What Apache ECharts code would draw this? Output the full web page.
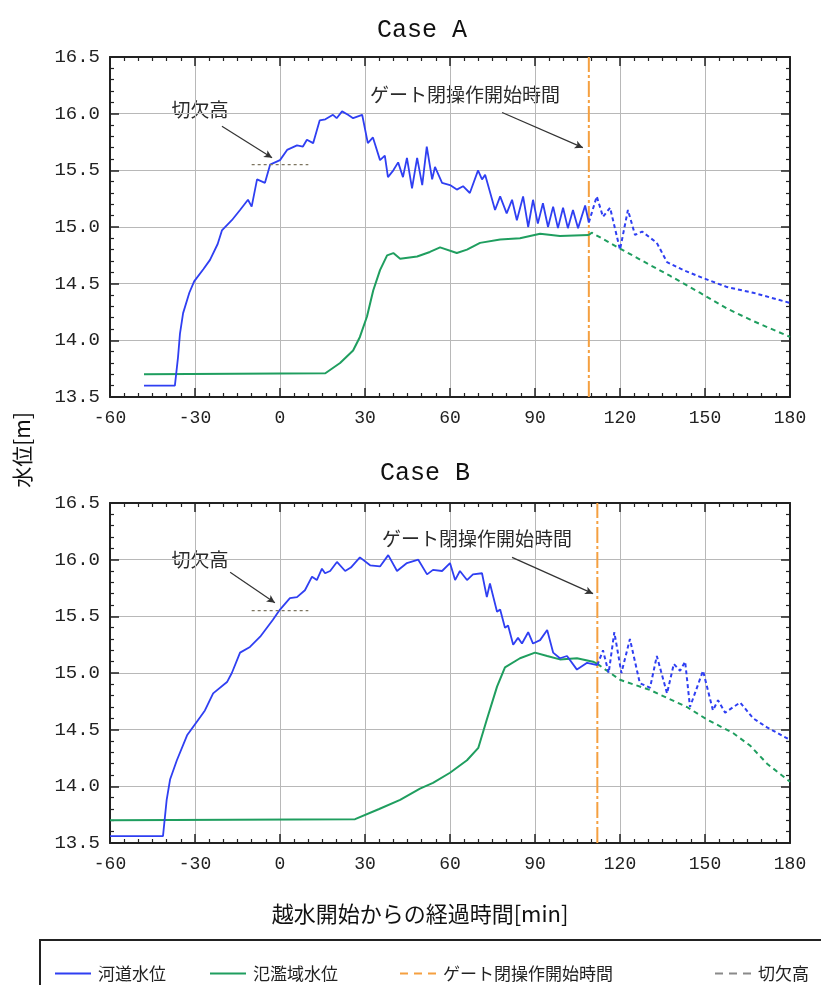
<!DOCTYPE html>
<html><head><meta charset="utf-8">
<script src="https://cdn.jsdelivr.net/npm/echarts@6/dist/echarts.min.js"></script>
<style>html,body{margin:0;padding:0;background:#fff}#c{width:821px;height:985px}</style>
</head><body><div id="c"></div>
<script>
// ---- data ----
const xTicks = [-60, -30, 0, 30, 60, 90, 120, 150, 180];
const yTicks = [13.5, 14.0, 14.5, 15.0, 15.5, 16.0, 16.5];
const caseTitles = ['Case A', 'Case B'];
const seriesNames = ['河道水位', '氾濫域水位', 'ゲート閉操作開始時間', '切欠高'];

const gateA = 109, gateB = 112;
const cutoffLevel = 15.55;
const cutoffSpan = [-10, 10];

// Case A river (solid, before gate)
const tA_river = [-48,-37.1,-36,-35.3,-34.2,-32,-30.3,-27,-24.7,-22,-20.5,-17,-14.1,-11.3,-10,-8.1,-5.3,-3.5,0,2.5,6,8.1,9.5,11.7,14,16,18.7,20,21.9,24,25.8,29,31,32.8,35.3,37,38.1,40,41.7,43.4,44.8,46.6,48.4,50.2,51.8,53.7,54.7,57.2,60,62.4,64.6,67,69.9,71.3,72.4,75.9,77.7,80,81.9,83.6,85.8,87.6,89.3,91,92.8,94.6,96.4,98.1,99.9,101.6,103.4,105.2,107.7,109];
const vA_river = [13.6,13.6,13.85,14.06,14.24,14.42,14.52,14.63,14.71,14.85,14.97,15.06,15.15,15.24,15.18,15.42,15.39,15.55,15.59,15.68,15.72,15.71,15.77,15.74,15.94,15.95,15.99,15.96,16.02,15.99,15.96,15.99,15.74,15.79,15.59,15.63,15.44,15.5,15.57,15.44,15.61,15.34,15.61,15.37,15.71,15.42,15.53,15.39,15.37,15.33,15.36,15.3,15.5,15.42,15.46,15.15,15.27,15.12,15.24,15.06,15.27,15.0,15.24,15.03,15.21,15.0,15.18,14.99,15.17,14.99,15.15,14.99,15.19,15.04];
// Case A river (dashed, after gate)
const tA_riverAfter = [109,111.8,114,116.5,120,122.8,125.3,127.8,133,136.6,142.3,149.3,157.8,167,180];
const vA_riverAfter = [15.04,15.27,15.09,15.17,14.8,15.15,14.93,14.96,14.86,14.69,14.62,14.55,14.47,14.42,14.33];
// Case A floodplain (solid / dashed)
const tA_flood = [-48,16,21.2,25.8,28.2,30.7,32.9,35.3,37.8,40,42.4,48.4,52.9,56.5,62.4,66,70.6,77.7,84.7,91.8,98.8,109];
const vA_flood = [13.7,13.71,13.8,13.91,14.03,14.21,14.44,14.62,14.75,14.77,14.72,14.74,14.78,14.82,14.77,14.8,14.86,14.89,14.9,14.94,14.92,14.93];
const tA_floodAfter = [109,110,120,128,137.6,148.2,157.8,167,180];
const vA_floodAfter = [14.93,14.95,14.81,14.7,14.57,14.42,14.28,14.17,14.03];

// Case B river (solid / dashed)
const tB_river = [-60,-41.3,-40,-38.8,-36.4,-32.8,-28.2,-26.5,-23.6,-18.7,-17,-14.1,-10.6,-7,-2.5,0,3.5,6,8.8,11.3,13,14.8,15.9,17.7,20.1,23,25,28.2,31.8,35.3,38.2,41.3,44.8,48.8,51.9,54,57.2,60,61.8,63.5,66,68.1,71.3,73,74.1,76.6,77.7,79.4,80.5,82.3,84,85.4,87.6,89.3,91.8,94.3,96.4,98.8,101.3,104.8,108.4,112];
const vB_river = [13.56,13.56,13.88,14.06,14.23,14.45,14.61,14.67,14.82,14.92,15.0,15.18,15.23,15.32,15.47,15.56,15.66,15.67,15.73,15.85,15.82,15.92,15.88,15.9,15.98,15.9,15.93,16.02,15.95,15.94,16.04,15.9,15.97,16.0,15.87,15.91,15.9,15.97,15.82,15.9,15.82,15.87,15.88,15.67,15.79,15.54,15.56,15.4,15.42,15.25,15.31,15.26,15.36,15.26,15.29,15.38,15.18,15.13,15.15,15.03,15.09,15.07];
const tB_riverAfter = [112,114,116,118,120.5,123.5,127,130.6,133,136.6,139,141.2,143,144.7,149.3,152.8,154.6,157.1,162.4,167,171.9,180];
const vB_riverAfter = [15.07,15.2,15.0,15.36,15.0,15.3,14.91,14.87,15.15,14.82,15.08,15.02,15.1,14.7,15.02,14.67,14.76,14.65,14.74,14.6,14.52,14.41];
// Case B floodplain (solid / dashed)
const tB_flood = [-60,26.5,35,42.4,49.4,54,60,66,70,73,76.6,79.4,84.7,90,94.3,98.8,104.8,110.5,112];
const vB_flood = [13.7,13.71,13.8,13.88,13.98,14.03,14.12,14.23,14.34,14.59,14.88,15.05,15.13,15.18,15.15,15.12,15.13,15.1,15.08];
const tB_floodAfter = [112,120,130.6,143.6,150.7,159.9,165.9,171.9,180];
const vB_floodAfter = [15.08,14.94,14.85,14.7,14.59,14.47,14.36,14.2,14.04];

// annotation arrows [from t, from v, to t, to v]
const arrowCutA = [-20.5, 15.89, -2.8, 15.61];
const arrowGateA = [78.4, 16.01, 106.9, 15.70];
const arrowCutB = [-17.6, 15.89, -1.8, 15.62];
const arrowGateB = [81.9, 16.02, 110.5, 15.70];

// ---- build ----
const pairs = (t, v) => t.map((x, i) => [x, v[i]]);
const xMin = xTicks[0], xMax = xTicks[xTicks.length - 1];
const yMin = yTicks[0], yMax = yTicks[yTicks.length - 1];
const BLUE = '#2f3ff2', GREEN = '#1f9e5f', ORANGE = '#f5a040', CUT = '#7d7560';
const monoFont = '"Liberation Mono", "DejaVu Sans Mono", monospace';
const jpFont = '"Noto Sans CJK JP", sans-serif';

const grids = [
  { left: 110, top: 57, width: 680, height: 340 },
  { left: 110, top: 503, width: 680, height: 340 }
];

const xAxes = [], yAxes = [];
grids.forEach((g, gi) => {
  const common = {
    type: 'value', gridIndex: gi, min: xMin, max: xMax, interval: 30,
    axisLine: { show: true, onZero: false, lineStyle: { color: '#222', width: 2 } },
    axisTick: { show: true, inside: true, length: 9, lineStyle: { color: '#222', width: 1.5 } },
    minorTick: { show: true, splitNumber: 6, length: 4, lineStyle: { color: '#222', width: 1.2 } }
  };
  xAxes.push(Object.assign({}, common, {
    position: 'bottom',
    axisLabel: { show: true, margin: 12, fontFamily: monoFont, fontSize: 18, color: '#222', showMinLabel: true, showMaxLabel: true },
    splitLine: { show: true, lineStyle: { color: '#b8b8b8', width: 1 } }
  }));
  xAxes.push(Object.assign({}, common, {
    position: 'top', axisLabel: { show: false }, splitLine: { show: false }
  }));
  const ycommon = {
    type: 'value', gridIndex: gi, min: yMin, max: yMax, interval: 0.5,
    axisLine: { show: true, onZero: false, lineStyle: { color: '#222', width: 2 } },
    axisTick: { show: true, inside: true, length: 9, lineStyle: { color: '#222', width: 1.5 } },
    minorTick: { show: true, splitNumber: 5, length: 4, lineStyle: { color: '#222', width: 1.2 } }
  };
  yAxes.push(Object.assign({}, ycommon, {
    position: 'left',
    axisLabel: { show: true, margin: 10, fontFamily: monoFont, fontSize: 19, color: '#222',
      formatter: v => v.toFixed(1), showMinLabel: true, showMaxLabel: true },
    splitLine: { show: true, lineStyle: { color: '#b8b8b8', width: 1 } }
  }));
  yAxes.push(Object.assign({}, ycommon, {
    position: 'right', axisLabel: { show: false }, splitLine: { show: false }
  }));
});

function arrowLine(a) {
  return [{ coord: [a[0], a[1]] }, { coord: [a[2], a[3]] }];
}

function caseSeries(gi, river, riverAfter, flood, floodAfter, gate, arrows) {
  const xi = gi * 2, yi = gi * 2;
  return [
    { name: seriesNames[0], type: 'line', xAxisIndex: xi, yAxisIndex: yi, data: river,
      symbol: 'none', lineStyle: { color: BLUE, width: 1.8 }, itemStyle: { color: BLUE }, z: 5 },
    { name: seriesNames[0], type: 'line', xAxisIndex: xi, yAxisIndex: yi, data: riverAfter,
      symbol: 'none', lineStyle: { color: BLUE, width: 2, type: [4, 3] }, itemStyle: { color: BLUE }, z: 5 },
    { name: seriesNames[1], type: 'line', xAxisIndex: xi, yAxisIndex: yi, data: flood,
      symbol: 'none', lineStyle: { color: GREEN, width: 2 }, itemStyle: { color: GREEN }, z: 4 },
    { name: seriesNames[1], type: 'line', xAxisIndex: xi, yAxisIndex: yi, data: floodAfter,
      symbol: 'none', lineStyle: { color: GREEN, width: 2, type: [5, 4] }, itemStyle: { color: GREEN }, z: 4 },
    { name: seriesNames[2], type: 'line', xAxisIndex: xi, yAxisIndex: yi,
      data: [[gate, yMin], [gate, yMax]],
      symbol: 'none', lineStyle: { color: ORANGE, width: 2, type: [16, 3, 3, 3] }, itemStyle: { color: ORANGE }, z: 3 },
    { name: seriesNames[3], type: 'line', xAxisIndex: xi, yAxisIndex: yi,
      data: [[cutoffSpan[0], cutoffLevel], [cutoffSpan[1], cutoffLevel]],
      symbol: 'none', lineStyle: { color: CUT, width: 1.2, type: [3, 3] }, itemStyle: { color: '#8a8a8a' }, z: 6,
      markLine: { silent: true, symbol: ['none', 'arrow'], symbolSize: [6, 8],
        label: { show: false }, lineStyle: { color: '#333', width: 1.2, type: 'solid' },
        data: arrows.map(arrowLine) } }
  ];
}

const series = [].concat(
  caseSeries(0, pairs(tA_river, vA_river), pairs(tA_riverAfter, vA_riverAfter),
    pairs(tA_flood, vA_flood), pairs(tA_floodAfter, vA_floodAfter), gateA, [arrowCutA, arrowGateA]),
  caseSeries(1, pairs(tB_river, vB_river), pairs(tB_riverAfter, vB_riverAfter),
    pairs(tB_flood, vB_flood), pairs(tB_floodAfter, vB_floodAfter), gateB, [arrowCutB, arrowGateB])
);

const solidIcon = 'path://M0,0h36v2h-36z';
const dashIcon = 'path://M0,0h8v2h-8z M14,0h8v2h-8z M28,0h8v2h-8z';
const legendIcons = [solidIcon, solidIcon, dashIcon, dashIcon];
const legendLefts = [50, 205, 395, 710];
const legends = seriesNames.map((n, i) => ({
  data: [{ name: n, icon: legendIcons[i] }], left: legendLefts[i], top: 960, orient: 'horizontal',
  itemWidth: 36, itemHeight: 2, itemGap: 10, selectedMode: false,
  textStyle: { fontFamily: jpFont, fontSize: 17, color: '#222', padding: [0, 0, 0, 2] }
}));

const annText = (txt, x, y, align, size) => ({
  type: 'text', x: x, y: y,
  style: { text: txt, x: 0, y: 0, fill: '#2a2a2a', font: `${size}px ${jpFont}`, textAlign: align, textVerticalAlign: 'middle' }
});

const graphic = [
  { type: 'text', x: 422, y: 30, style: { text: caseTitles[0], font: `25px ${monoFont}`, fill: '#111', textAlign: 'center', textVerticalAlign: 'middle' } },
  { type: 'text', x: 425, y: 473, style: { text: caseTitles[1], font: `25px ${monoFont}`, fill: '#111', textAlign: 'center', textVerticalAlign: 'middle' } },
  annText('切欠高', 200, 110, 'center', 19),
  annText('ゲート閉操作開始時間', 370, 95, 'left', 19),
  annText('切欠高', 200, 560, 'center', 19),
  annText('ゲート閉操作開始時間', 382, 539, 'left', 19),
  { type: 'text', x: 22, y: 450, rotation: Math.PI / 2,
    style: { text: '水位[m]', font: `21px ${jpFont}`, fill: '#111', textAlign: 'center', textVerticalAlign: 'middle' } },
  { type: 'text', x: 420, y: 914,
    style: { text: '越水開始からの経過時間[min]', font: `22px ${jpFont}`, fill: '#111', textAlign: 'center', textVerticalAlign: 'middle' } },
  { type: 'rect', shape: { x: 40, y: 940, width: 800, height: 70 },
    style: { fill: 'none', stroke: '#222', lineWidth: 2 }, z: 10 }
];

const chart = echarts.init(document.getElementById('c'), null, { renderer: 'canvas' });
chart.setOption({
  backgroundColor: '#ffffff',
  animation: false,
  grid: grids,
  xAxis: xAxes,
  yAxis: yAxes,
  legend: legends,
  series: series,
  graphic: graphic
});
</script></body></html>
